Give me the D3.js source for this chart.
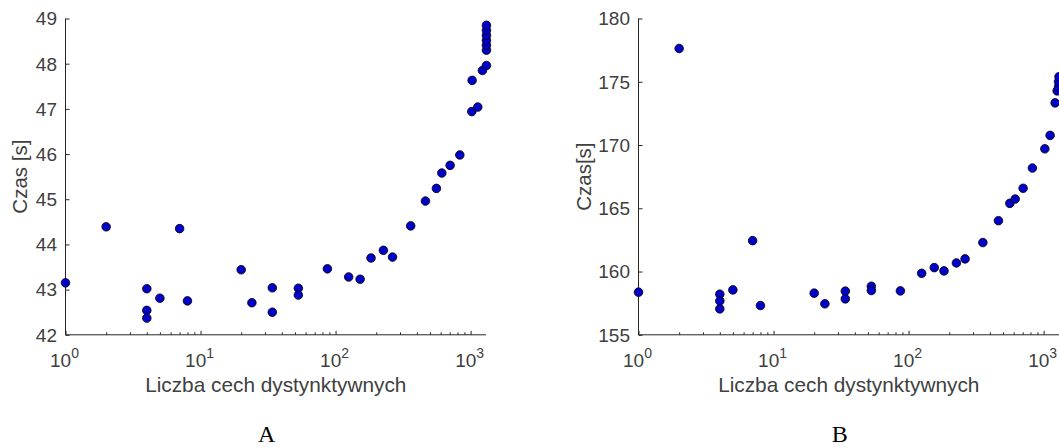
<!DOCTYPE html>
<html>
<head>
<meta charset="utf-8">
<script src="https://cdnjs.cloudflare.com/ajax/libs/d3/7.8.5/d3.min.js"></script>
<style>
  html, body { margin: 0; padding: 0; background: #fff; overflow: hidden; }
  svg { display: block; }
</style>
</head>
<body>
<svg id="chart" width="1059" height="448"></svg>
<script>
// ---- Data ----
const xTickExponents = [0, 1, 2, 3];

const panelA_x = [1, 2, 4, 4, 4, 5, 7, 8, 20, 24, 34, 34, 53, 53, 87, 125, 152, 183, 226, 264,
  360, 463, 558, 612, 705, 832, 1020, 1130, 1026, 1223, 1310, 1310, 1310, 1310, 1310, 1310, 1310];
const panelA_y = [43.15, 44.39, 43.02, 42.54, 42.37, 42.81, 44.35, 42.75, 43.44, 42.71, 43.04, 42.50,
  43.03, 42.88, 43.46, 43.28, 43.23, 43.70, 43.87, 43.72, 44.41, 44.96, 45.24, 45.58, 45.75, 45.98,
  46.94, 47.04, 47.63, 47.85, 47.96, 48.30, 48.41, 48.52, 48.63, 48.74, 48.85];
const panelA_yTicks = [42, 43, 44, 45, 46, 47, 48, 49];

const panelB_x = [1, 2, 4, 4, 4, 5, 7, 8, 20, 24, 34, 34, 53, 53, 87, 125, 155, 183, 226, 262,
  355, 463, 562, 616, 705, 826, 1021, 1117, 1217, 1260, 1290, 1290, 1300];
const panelB_y = [158.37, 177.63, 158.21, 157.68, 157.05, 158.55, 162.44, 157.31, 158.29, 157.45,
  158.45, 157.84, 158.84, 158.50, 158.47, 159.86, 160.31, 160.05, 160.68, 161.00, 162.29, 164.02,
  165.39, 165.73, 166.58, 168.18, 169.70, 170.76, 173.33, 174.28, 174.60, 175.00, 175.40];
const panelB_yTicks = [155, 160, 165, 170, 175, 180];

const xLabel = "Liczba cech dystynktywnych";

const panels = [
  { xs: panelA_x, ys: panelA_y, yTicks: panelA_yTicks, yDomain: [42, 49], yLabel: "Czas [s]",
    letter: "A", left: 65.5, right: 486, ylabelX: 20 },
  { xs: panelB_x, ys: panelB_y, yTicks: panelB_yTicks, yDomain: [155, 180], yLabel: "Czas[s]",
    letter: "B", left: 638.5, right: 1059, ylabelX: 584 }
];

// ---- Drawing ----
const svg = d3.select("#chart");
const plotTop = 18.5, plotBottom = 334.8;
const axisColor = "#262626";
const textColor = "#404040";
const font = "'Liberation Sans', Arial, Helvetica, sans-serif";

panels.forEach(p => {
  const x = d3.scaleLog().domain([1, 1300]).range([p.left, p.right]);
  const y = d3.scaleLinear().domain(p.yDomain).range([plotBottom, plotTop]);
  const g = svg.append("g");

  // Y axis (ticks inward)
  const yAxis = d3.axisRight(y).tickValues(p.yTicks).tickSize(4).tickFormat("");
  const yg = g.append("g").attr("transform", `translate(${p.left},0)`).call(yAxis);
  yg.select(".domain").attr("stroke", axisColor).attr("stroke-width", 1)
    .attr("d", `M0,${plotTop}V${plotBottom}`);
  yg.selectAll(".tick line").attr("stroke", axisColor);
  g.selectAll(".ylab").data(p.yTicks).enter().append("text")
    .attr("x", p.left - 8.5).attr("y", d => y(d)).attr("dy", "0.36em")
    .attr("text-anchor", "end").attr("font-family", font).attr("font-size", 19)
    .attr("fill", textColor).text(d => d);

  // X axis: major + minor ticks inward (upwards)
  const majors = xTickExponents.map(e => Math.pow(10, e));
  const minors = [];
  xTickExponents.forEach(e => { for (let k = 2; k <= 9; k++) { const v = k * Math.pow(10, e); if (v <= 1300) minors.push(v); } });
  const xAxisMajor = d3.axisTop(x).tickValues(majors).tickSize(4).tickFormat("");
  const xg = g.append("g").attr("transform", `translate(0,${plotBottom})`).call(xAxisMajor);
  xg.select(".domain").attr("stroke", axisColor).attr("d", `M${p.left},0H${p.right}`);
  xg.selectAll(".tick line").attr("stroke", axisColor);
  const xAxisMinor = d3.axisTop(x).tickValues(minors).tickSize(2.5).tickFormat("");
  const xg2 = g.append("g").attr("transform", `translate(0,${plotBottom})`).call(xAxisMinor);
  xg2.select(".domain").remove();
  xg2.selectAll(".tick line").attr("stroke", axisColor);

  const xl = g.selectAll(".xlab").data(xTickExponents).enter().append("text")
    .attr("x", d => x(Math.pow(10, d)) - 1).attr("y", 367)
    .attr("text-anchor", "middle").attr("font-family", font).attr("font-size", 19)
    .attr("fill", textColor);
  xl.append("tspan").text("10");
  xl.append("tspan").attr("dy", -9).attr("font-size", 14).text(d => d);

  g.append("text").attr("x", (p.left + p.right) / 2).attr("y", 392)
    .attr("text-anchor", "middle").attr("font-family", font).attr("font-size", 20.8)
    .attr("fill", textColor).text(xLabel);

  g.append("text").attr("transform", `translate(${p.ylabelX + 7},${(plotTop + plotBottom) / 2}) rotate(-90)`)
    .attr("text-anchor", "middle").attr("font-family", font).attr("font-size", 20.5)
    .attr("fill", textColor).text(p.yLabel);

  g.append("text").attr("x", (p.left + p.right) / 2 - 9).attr("y", 442)
    .attr("text-anchor", "middle").attr("font-family", "'Liberation Serif', 'Times New Roman', serif")
    .attr("font-size", 24).attr("fill", "#000").text(p.letter);

  const pts = p.xs.map((v, i) => ({ x: v, y: p.ys[i] }));
  g.selectAll("circle").data(pts).enter().append("circle")
    .attr("cx", d => x(d.x)).attr("cy", d => y(d.y)).attr("r", 4.3)
    .attr("fill", "#0000c8").attr("stroke", "#000").attr("stroke-width", 0.8);
});
</script>
</body>
</html>
